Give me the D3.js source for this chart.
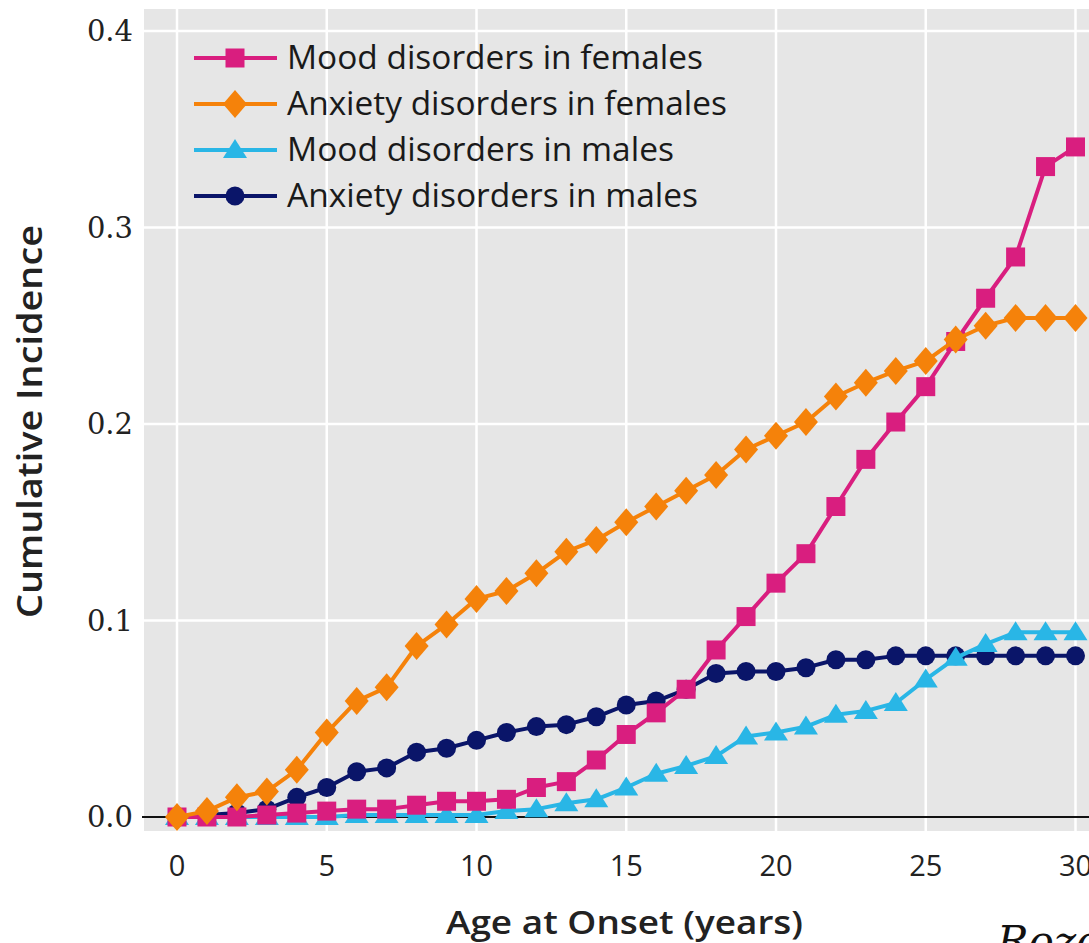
<!DOCTYPE html>
<html>
<head>
<meta charset="utf-8">
<script src="https://cdn.jsdelivr.net/npm/d3@7"></script>
<style>
  body { margin: 0; background: #fff; }
  svg { display: block; }
</style>
</head>
<body>
<svg width="1089" height="943"></svg>
<script>
// Age at onset, 0..30 years
const ages = d3.range(0, 31);

// Cumulative incidence
const moodFemales = [0, 0, 0, 0.001, 0.002, 0.003, 0.004, 0.004, 0.006, 0.008,
  0.008, 0.009, 0.015, 0.018, 0.029, 0.042, 0.053, 0.065, 0.085, 0.102,
  0.119, 0.134, 0.158, 0.182, 0.201, 0.219, 0.242, 0.264, 0.285, 0.331, 0.341];
const anxietyFemales = [0, 0.003, 0.010, 0.013, 0.024, 0.043, 0.059, 0.066, 0.087, 0.098,
  0.111, 0.115, 0.124, 0.135, 0.141, 0.150, 0.158, 0.166, 0.174, 0.187,
  0.194, 0.201, 0.214, 0.221, 0.227, 0.232, 0.243, 0.250, 0.254, 0.254, 0.254];
const moodMales = [0, 0, 0, 0, 0, 0, 0.001, 0.001, 0.001, 0.001,
  0.001, 0.003, 0.004, 0.007, 0.009, 0.015, 0.022, 0.026, 0.031, 0.041,
  0.043, 0.046, 0.052, 0.054, 0.058, 0.070, 0.081, 0.088, 0.094, 0.094, 0.094];
const anxietyMales = [0, 0.001, 0.002, 0.004, 0.010, 0.015, 0.023, 0.025, 0.033, 0.035,
  0.039, 0.043, 0.046, 0.047, 0.051, 0.057, 0.059, 0.065, 0.073, 0.074,
  0.074, 0.076, 0.080, 0.080, 0.082, 0.082, 0.082, 0.082, 0.082, 0.082, 0.082];

const seriesNames = ["Mood disorders in females", "Anxiety disorders in females",
  "Mood disorders in males", "Anxiety disorders in males"];
const xTicks = [0, 5, 10, 15, 20, 25, 30];
const yTicks = [0, 0.1, 0.2, 0.3, 0.4];

const series = [
  {name: seriesNames[0], values: moodFemales, color: "#d91e7f", shape: "square"},
  {name: seriesNames[1], values: anxietyFemales, color: "#f5820a", shape: "diamond"},
  {name: seriesNames[2], values: moodMales, color: "#29b6e6", shape: "triangle"},
  {name: seriesNames[3], values: anxietyMales, color: "#0a1569", shape: "circle"}
];

// widths of the legend labels in the source picture
const legendWidths = [416, 440, 387, 411];

const sansFont = "'Open Sans', 'Noto Sans', sans-serif";

// Panel (gray plotting area) - it runs off the right edge like the source
const panel = {left: 144, top: 9, right: 1100, bottom: 831};

const x = d3.scaleLinear().domain([0, 30]).range([177, 1075.5]);
const y = d3.scaleLinear().domain([0, 0.4]).range([817, 31]);

const svg = d3.select("svg");

svg.append("rect")
  .attr("x", panel.left).attr("y", panel.top)
  .attr("width", panel.right - panel.left)
  .attr("height", panel.bottom - panel.top)
  .attr("fill", "#e6e6e6");

// white grid
svg.append("g").selectAll("line")
  .data(xTicks)
  .join("line")
  .attr("x1", d => x(d)).attr("x2", d => x(d))
  .attr("y1", panel.top).attr("y2", panel.bottom)
  .attr("stroke", "#fff").attr("stroke-width", 2.5);

svg.append("g").selectAll("line")
  .data(yTicks.filter(d => d > 0))
  .join("line")
  .attr("x1", panel.left).attr("x2", panel.right)
  .attr("y1", d => y(d)).attr("y2", d => y(d))
  .attr("stroke", "#fff").attr("stroke-width", 2.5);

// zero baseline
svg.append("line")
  .attr("x1", panel.left - 2).attr("x2", panel.right)
  .attr("y1", y(0)).attr("y2", y(0))
  .attr("stroke", "#111").attr("stroke-width", 2);

// y tick labels
svg.append("g").selectAll("text")
  .data(yTicks)
  .join("text")
  .attr("x", 133)
  .attr("y", d => y(d))
  .attr("dy", "0.36em")
  .attr("text-anchor", "end")
  .style("font-family", "'DejaVu Serif', serif")
  .style("font-size", "29px")
  .style("fill", "#222")
  .text(d3.format(".1f"));

// x tick labels
svg.append("g").selectAll("text")
  .data(xTicks)
  .join("text")
  .attr("x", d => x(d))
  .attr("y", 876)
  .attr("text-anchor", "middle")
  .style("font-family", sansFont)
  .style("font-size", "29px")
  .style("fill", "#222")
  .text(d => d);

// axis titles
svg.append("text")
  .attr("x", 446)
  .attr("y", 934)
  .attr("textLength", 357)
  .attr("lengthAdjust", "spacingAndGlyphs")
  .style("font-family", sansFont)
  .style("font-size", "33px")
  .style("font-weight", 600)
  .style("fill", "#222")
  .text("Age at Onset (years)");

svg.append("text")
  .attr("transform", "translate(42, 618) rotate(-90)")
  .attr("textLength", 393)
  .attr("lengthAdjust", "spacingAndGlyphs")
  .style("font-family", sansFont)
  .style("font-size", "34px")
  .style("font-weight", 600)
  .style("fill", "#222")
  .text("Cumulative Incidence");

// partial caption that is cut at the lower right of the source picture
svg.append("text")
  .attr("x", 997)
  .attr("y", 956)
  .style("font-family", "'DejaVu Serif', serif")
  .style("font-style", "italic")
  .style("font-size", "42px")
  .style("fill", "#111")
  .text("Rozo");

// marker shapes
function markerPath(shape) {
  if (shape === "square") return "M-9.5,-9.5H9.5V9.5H-9.5Z";
  if (shape === "diamond") return "M0,-14L12,0L0,14L-12,0Z";
  if (shape === "triangle") return "M0,-11L12,8L-12,8Z";
  return d3.symbol(d3.symbolCircle, Math.PI * 9.5 * 9.5)();
}

const line = d3.line()
  .x((d, i) => x(ages[i]))
  .y(d => y(d));

// draw bottom to top: navy, cyan, pink, orange
const drawOrder = [3, 2, 0, 1];
drawOrder.forEach(k => {
  const s = series[k];
  const g = svg.append("g");
  g.append("path")
    .attr("d", line(s.values))
    .attr("fill", "none")
    .attr("stroke", s.color)
    .attr("stroke-width", 4)
    .attr("stroke-linejoin", "round");
  g.selectAll("path.pt")
    .data(s.values)
    .join("path")
    .attr("class", "pt")
    .attr("transform", (d, i) => `translate(${x(ages[i])}, ${y(d)})`)
    .attr("d", markerPath(s.shape))
    .attr("fill", s.color);
});

// legend
const legend = svg.append("g");
const legendRows = legend.selectAll("g")
  .data(series)
  .join("g")
  .attr("transform", (d, i) => `translate(0, ${58 + i * 46})`);

legendRows.append("line")
  .attr("x1", 194).attr("x2", 277)
  .attr("stroke", d => d.color)
  .attr("stroke-width", 4);

legendRows.append("path")
  .attr("transform", "translate(235, 0)")
  .attr("d", d => markerPath(d.shape))
  .attr("fill", d => d.color);

legendRows.append("text")
  .attr("x", 287)
  .attr("dy", "0.35em")
  .attr("textLength", (d, i) => legendWidths[i])
  .attr("lengthAdjust", "spacingAndGlyphs")
  .style("font-family", sansFont)
  .style("font-size", "32px")
  .style("fill", "#1a1a1a")
  .text(d => d.name);
</script>
</body>
</html>
